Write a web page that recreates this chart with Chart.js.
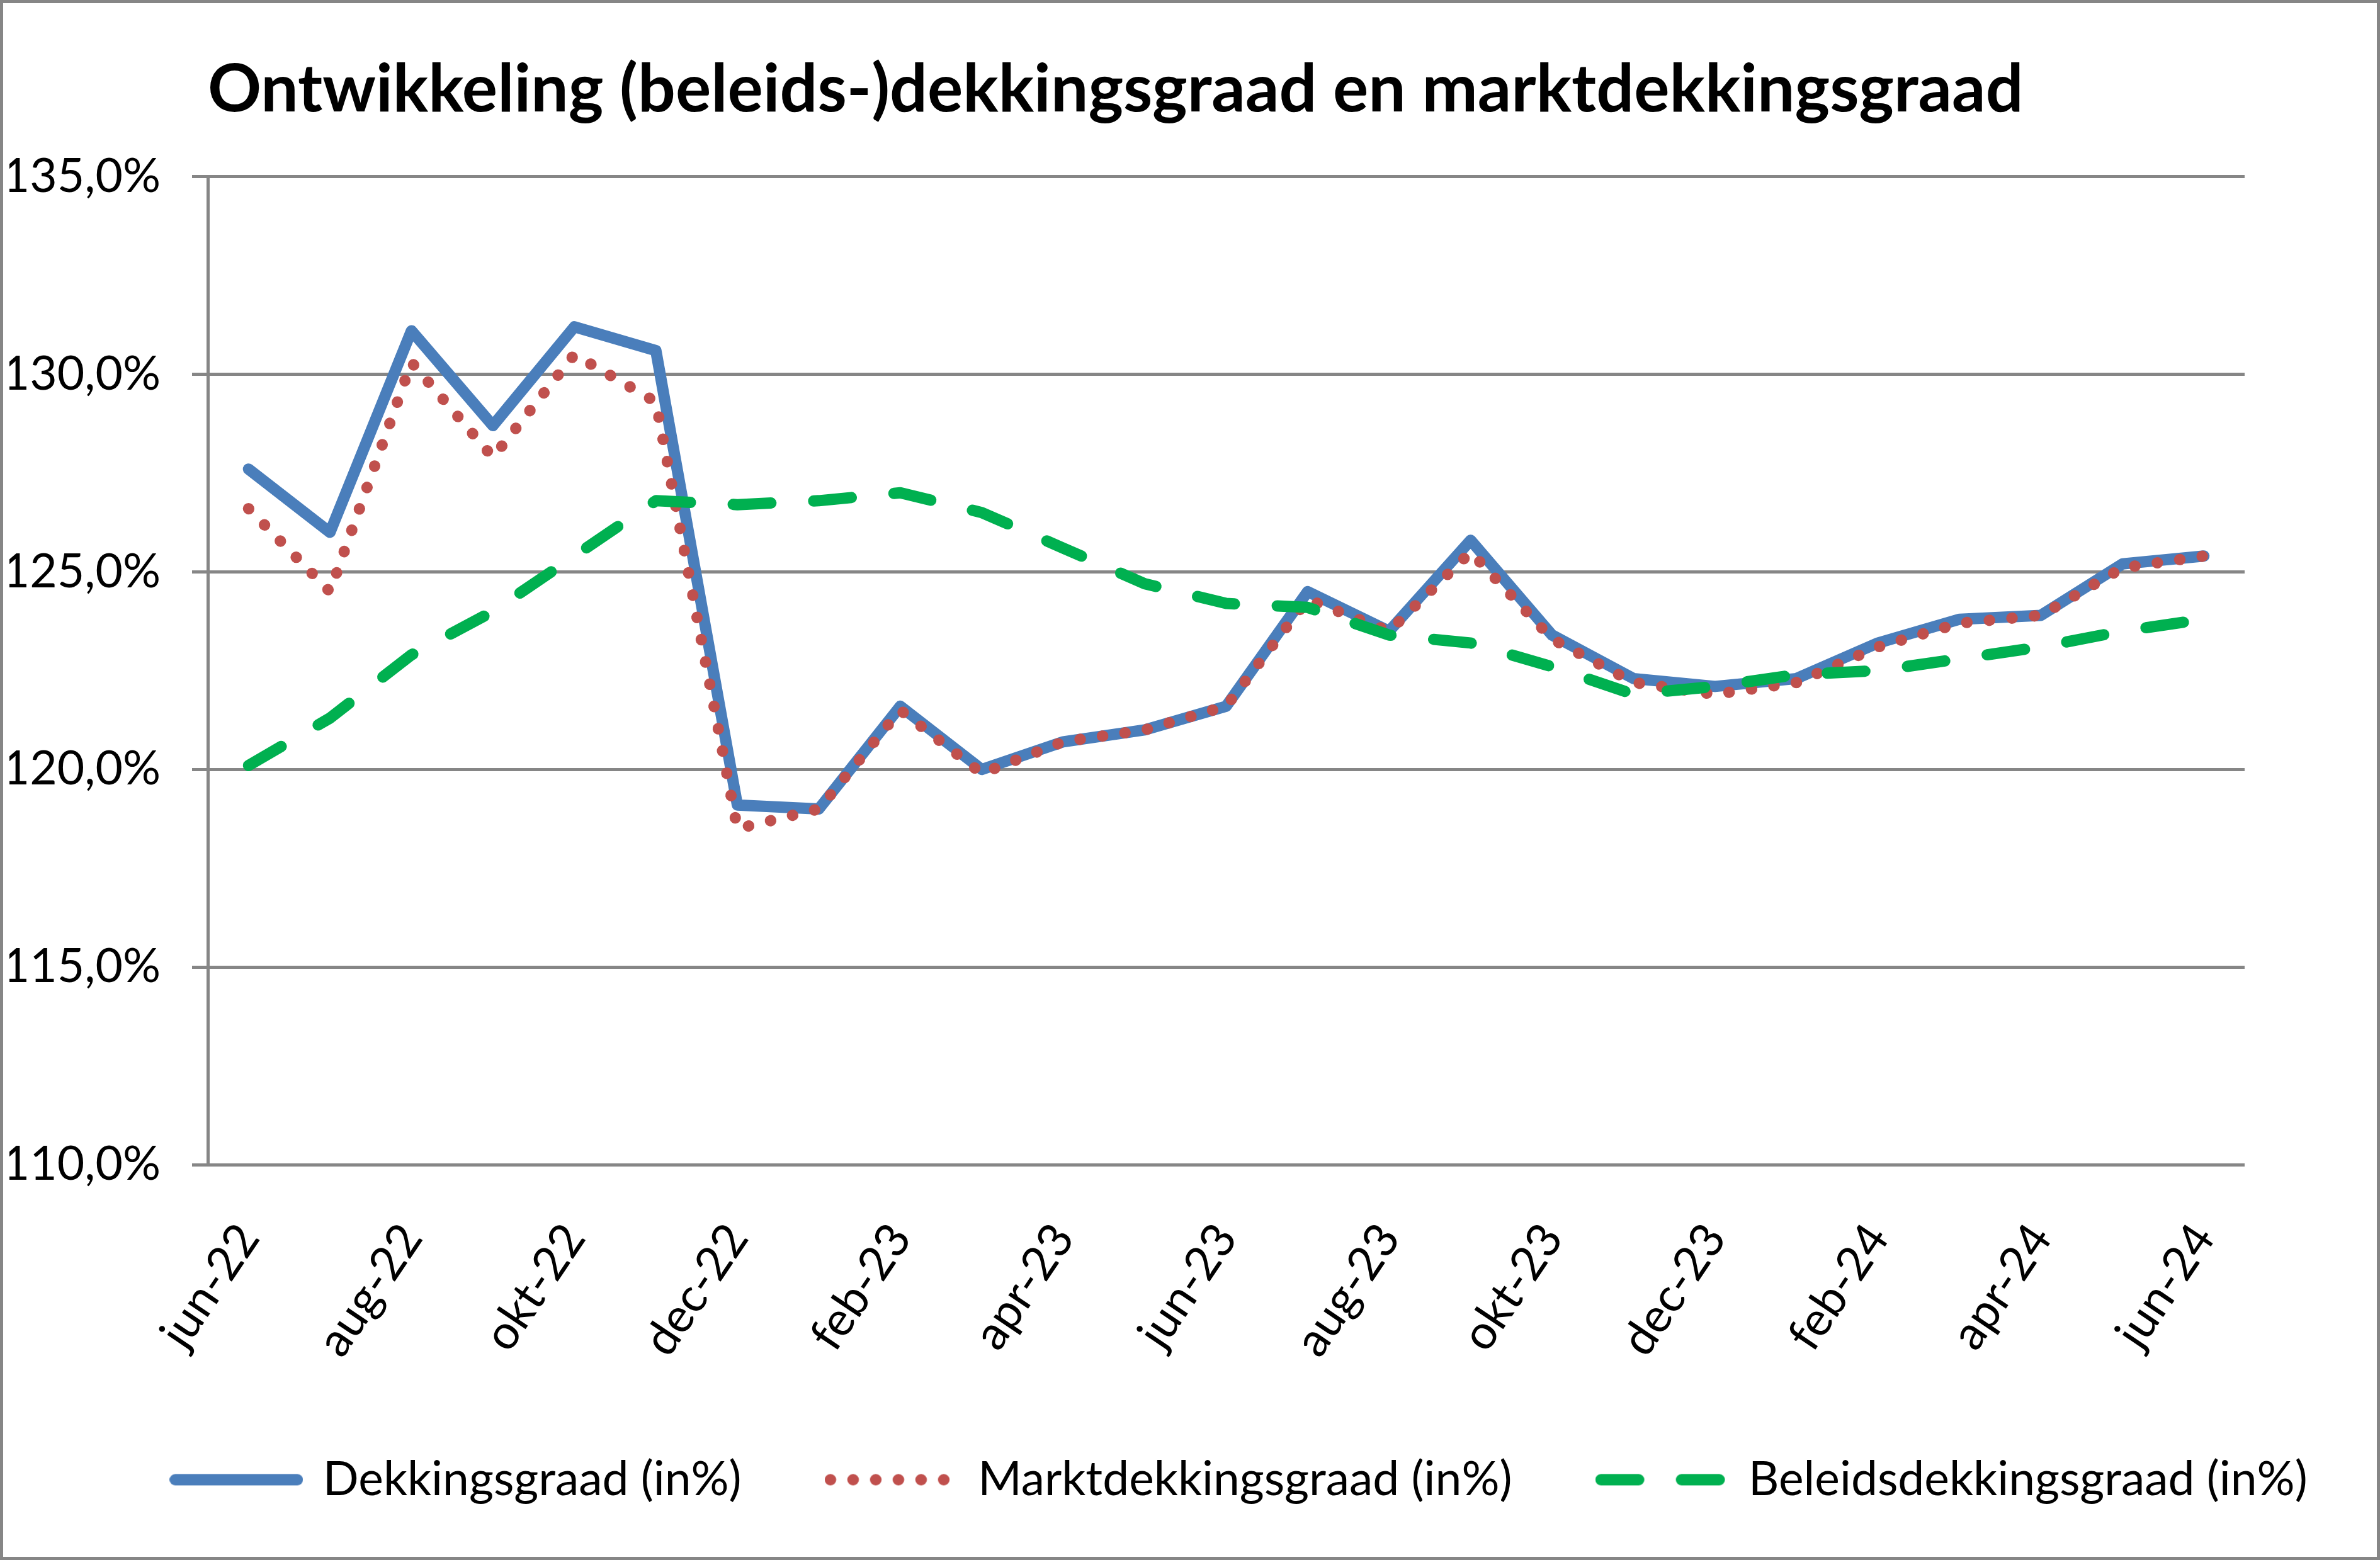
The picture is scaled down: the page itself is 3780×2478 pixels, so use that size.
<!DOCTYPE html>
<html><head><meta charset="utf-8">
<script src="https://cdn.jsdelivr.net/npm/chart.js@4.4.1/dist/chart.umd.min.js"></script>
<style>
html,body{margin:0;padding:0;background:#fff;}
#wrap{position:absolute;left:0;top:0;width:3780px;height:2478px;box-sizing:border-box;border:5px solid #868686;background:#fff;}
canvas{display:block;}
</style></head><body>
<div id="wrap"><canvas id="c" width="3770" height="2468"></canvas></div>
<script>
const titleText = 'Ontwikkeling (beleids-)dekkingsgraad en marktdekkingsgraad';
const categories = ['jun-22','jul-22','aug-22','sep-22','okt-22','nov-22','dec-22','jan-23','feb-23','mrt-23','apr-23','mei-23','jun-23','jul-23','aug-23','sep-23','okt-23','nov-23','dec-23','jan-24','feb-24','mrt-24','apr-24','mei-24','jun-24'];
const seriesNames = ['Dekkingsgraad (in%)','Marktdekkingsgraad (in%)','Beleidsdekkingsgraad (in%)'];
const dekkingsgraad = [127.6,126.0,131.1,128.7,131.2,130.6,119.1,119.0,121.6,120.0,120.7,121.0,121.6,124.5,123.5,125.8,123.4,122.3,122.1,122.3,123.2,123.8,123.9,125.2,125.4];
const marktdekkingsgraad = [126.6,124.5,130.3,127.9,130.5,129.3,118.5,119.0,121.5,119.9,120.7,121.0,121.6,124.3,123.5,125.5,123.3,122.2,121.9,122.2,123.1,123.7,123.9,125.1,125.4];
const beleidsdekkingsgraad = [120.1,121.3,122.9,124.0,125.4,126.8,126.7,126.8,127.0,126.5,125.6,124.7,124.2,124.1,123.4,123.2,122.6,121.9,122.1,122.4,122.5,122.8,123.1,123.5,123.8];
const yTickValues = [110,115,120,125,130,135];
const yTickLabels = ['110,0%','115,0%','120,0%','125,0%','130,0%','135,0%'];

const GRID = '#868686';
const styles = [
  { color: '#4A7EBB', width: 18, dash: [] },
  { color: '#C0504D', width: 18, dash: [0.5, 35.5] },
  { color: '#00B050', width: 18, dash: [60, 68] }
];

function makeSwatch(st) {
  const cv = document.createElement('canvas');
  cv.width = 212; cv.height = 30;
  const g = cv.getContext('2d');
  g.strokeStyle = st.color; g.lineWidth = st.width; g.lineCap = 'round';
  g.setLineDash(st.dash);
  g.beginPath(); g.moveTo(st.width / 2, 15); g.lineTo(212 - st.width / 2, 15); g.stroke();
  return cv;
}
const swatches = styles.map(makeSwatch);

const shiftLegend = {
  id: 'shiftLegend',
  afterLayout(chart) {
    const l = chart.legend;
    if (l) { l.left += 75; l.right += 75; }
  }
};

Chart.defaults.font.family = 'Lato, "Open Sans", sans-serif';
Chart.defaults.color = '#000';

new Chart(document.getElementById('c'), {
  type: 'line',
  data: {
    labels: categories,
    datasets: [
      { label: seriesNames[0], data: dekkingsgraad, borderColor: styles[0].color, backgroundColor: styles[0].color,
        borderWidth: styles[0].width, borderJoinStyle: 'round', borderCapStyle: 'round', pointRadius: 0, tension: 0, order: 3 },
      { label: seriesNames[1], data: marktdekkingsgraad, borderColor: styles[1].color, backgroundColor: styles[1].color,
        borderWidth: styles[1].width, borderDash: styles[1].dash, borderCapStyle: 'round', borderJoinStyle: 'round', pointRadius: 0, tension: 0, order: 2 },
      { label: seriesNames[2], data: beleidsdekkingsgraad, borderColor: styles[2].color, backgroundColor: styles[2].color,
        borderWidth: styles[2].width, borderDash: styles[2].dash, borderCapStyle: 'round', borderJoinStyle: 'round', pointRadius: 0, tension: 0, order: 1 }
    ]
  },
  options: {
    responsive: false,
    devicePixelRatio: 1,
    animation: false,
    layout: { padding: { left: 10, right: 0, top: 0, bottom: 75 } },
    scales: {
      x: {
        type: 'category', offset: true,
        grid: { display: false }, border: { display: false },
        ticks: { autoSkip: false, minRotation: 56, maxRotation: 56, padding: 70, font: { size: 75 }, color: '#000',
          callback(v, i) { return i % 2 === 0 ? categories[i] : ''; } },
        afterFit(s) { s.height = 325; }
      },
      y: {
        min: 110, max: 135,
        afterBuildTicks(s) { s.ticks = yTickValues.map(v => ({ value: v })); },
        grid: { color: GRID, lineWidth: 5, tickLength: 25, drawTicks: true },
        border: { display: true, color: GRID, width: 5 },
        ticks: { padding: 50, font: { size: 75 }, color: '#000',
          callback(v) { const i = yTickValues.indexOf(v); return i >= 0 ? yTickLabels[i] : ''; } },
        afterFit(s) { s.width = 315; }
      },
      yR: {
        position: 'right', display: true,
        grid: { display: false }, border: { display: false }, ticks: { display: false },
        afterFit(s) { s.width = 210; }
      }
    },
    plugins: {
      title: { display: true, text: titleText, align: 'start', fullSize: false, color: '#000',
        font: { size: 105.5, weight: 'bold' }, padding: { top: 75, bottom: 74 } },
      legend: { position: 'bottom', align: 'center',
        labels: { usePointStyle: true, pointStyleWidth: 200, padding: 138,
          font: { size: 75 }, color: '#000',
          generateLabels(chart) {
            const items = Chart.defaults.plugins.legend.labels.generateLabels(chart);
            items.forEach(it => { it.pointStyle = swatches[it.datasetIndex]; });
            return items;
          },
          sort: (a, b) => a.datasetIndex - b.datasetIndex } },
      tooltip: { enabled: false }
    }
  },
  plugins: [shiftLegend]
});
</script>
</body></html>
